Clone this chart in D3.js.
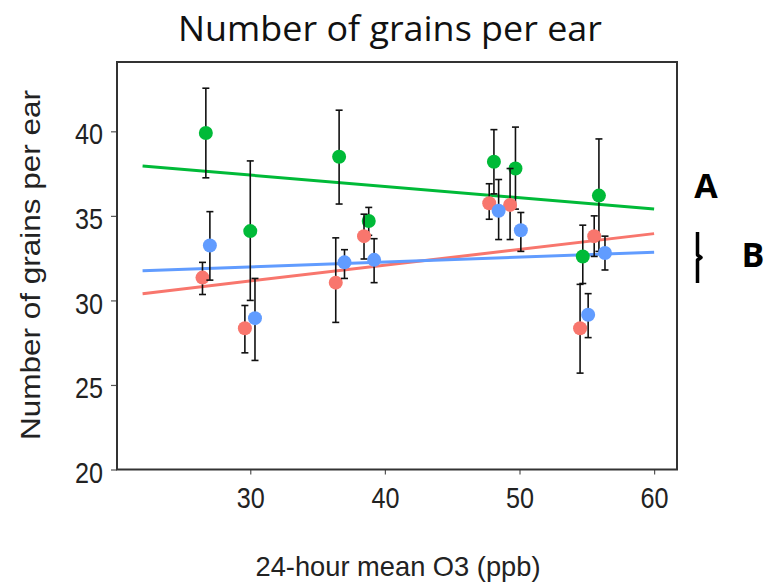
<!DOCTYPE html>
<html>
<head>
<meta charset="utf-8">
<script src="https://cdn.jsdelivr.net/npm/d3@7"></script>
<style>
  html, body { margin: 0; padding: 0; background: #fff; }
  svg { display: block; }
</style>
</head>
<body>
<svg id="chart" width="770" height="583"></svg>
<script>
// Ozone exposure (24-hour mean, ppb) for each treatment point
const greenX  = [26.7, 30.0, 36.6, 38.8, 48.1, 49.7, 54.7, 55.9];
const greenY  = [39.9, 34.1, 38.5, 34.7, 38.2, 37.8, 32.6, 36.2];
const greenLo = [37.25, 30.0, 35.7, 33.85, 36.3, 35.4, 31.0, 32.9];
const greenHi = [42.55, 38.25, 41.25, 35.5, 40.1, 40.25, 34.45, 39.55];

const redX  = [26.45, 29.6, 36.35, 38.45, 47.75, 49.3, 54.5, 55.55];
const redY  = [31.35, 28.35, 31.05, 33.8, 35.75, 35.65, 28.35, 33.8];
const redLo = [30.35, 26.9, 28.7, 32.45, 34.8, 33.6, 25.7, 32.6];
const redHi = [32.25, 29.7, 33.7, 35.1, 36.9, 37.8, 30.95, 35.0];

const blueX  = [27.0, 30.35, 37.0, 39.2, 48.45, 50.1, 55.1, 56.35];
const blueY  = [33.25, 28.95, 32.25, 32.4, 35.3, 34.15, 29.15, 32.8];
const blueLo = [31.2, 26.45, 31.3, 31.05, 33.6, 32.9, 27.8, 31.8];
const blueHi = [35.25, 31.3, 33.0, 33.65, 37.15, 35.2, 30.4, 33.8];

// Fitted trend lines: values at the two ends of the ozone range
const fitX     = [22, 60];
const greenFit = [37.95, 35.4];
const redFit   = [30.4, 33.95];
const blueFit  = [31.75, 32.85];

const xTicks = [30, 40, 50, 60];
const yTicks = [20, 25, 30, 35, 40];

const series = [
  { x: greenX, y: greenY, lo: greenLo, hi: greenHi, fit: greenFit, color: "#00BA38" },
  { x: redX,   y: redY,   lo: redLo,   hi: redHi,   fit: redFit,   color: "#F8766D" },
  { x: blueX,  y: blueY,  lo: blueLo,  hi: blueHi,  fit: blueFit,  color: "#619CFF" }
];

const svg = d3.select("#chart");
const plotL = 117, plotR = 677, plotT = 62, plotB = 469.5;

const x = d3.scaleLinear().domain([20.1, 61.7]).range([plotL, plotR]);
const y = d3.scaleLinear().domain([20, 44.1]).range([plotB, plotT]);

// Title
svg.append("text")
  .attr("x", 390).attr("y", 41)
  .attr("text-anchor", "middle")
  .attr("font-family", "'Open Sans', 'Noto Sans', sans-serif")
  .attr("font-size", 34)
  .attr("fill", "#111")
  .attr("textLength", 424)
  .attr("lengthAdjust", "spacingAndGlyphs")
  .text("Number of grains per ear");

// Axes
const axisFont = "'Liberation Sans', Arial, sans-serif";
const xAxis = svg.append("g")
  .attr("transform", `translate(0,${plotB})`)
  .call(d3.axisBottom(x).tickValues(xTicks).tickSize(5).tickPadding(12).tickFormat(d3.format("d")));
const yAxis = svg.append("g")
  .attr("transform", `translate(${plotL},0)`)
  .call(d3.axisLeft(y).tickValues(yTicks).tickSize(6).tickPadding(8).tickFormat(d3.format("d")));

[xAxis, yAxis].forEach(g => {
  g.select(".domain").remove();
  g.selectAll(".tick line").attr("stroke", "#555").attr("stroke-width", 1.2);
  g.selectAll(".tick text")
    .attr("font-family", axisFont)
    .attr("font-size", 30)
    .attr("fill", "#222")
    .attr("textLength", 28)
    .attr("lengthAdjust", "spacingAndGlyphs");
});
xAxis.selectAll(".tick text").attr("dy", "0.71em");
yAxis.selectAll(".tick text").attr("dy", "0.42em");

// Plot frame
svg.append("rect")
  .attr("x", plotL).attr("y", plotT)
  .attr("width", plotR - plotL).attr("height", plotB - plotT)
  .attr("fill", "none").attr("stroke", "#333").attr("stroke-width", 2);

// Axis titles
svg.append("text")
  .attr("x", 398).attr("y", 576)
  .attr("text-anchor", "middle")
  .attr("font-family", axisFont)
  .attr("font-size", 28)
  .attr("fill", "#222")
  .attr("textLength", 285)
  .attr("lengthAdjust", "spacingAndGlyphs")
  .text("24-hour mean O3 (ppb)");

svg.append("text")
  .attr("transform", "translate(40,265) rotate(-90)")
  .attr("text-anchor", "middle")
  .attr("font-family", axisFont)
  .attr("font-size", 28)
  .attr("fill", "#222")
  .attr("textLength", 350)
  .attr("lengthAdjust", "spacingAndGlyphs")
  .text("Number of grains per ear");

// Trend lines
const line = d3.line().x(d => x(d[0])).y(d => y(d[1]));
series.forEach(s => {
  svg.append("path")
    .datum(fitX.map((v, i) => [v, s.fit[i]]))
    .attr("d", line)
    .attr("fill", "none")
    .attr("stroke", s.color)
    .attr("stroke-width", 3);
});

// Error bars and points
const cap = 3.5;
series.forEach(s => {
  const g = svg.append("g");
  const idx = d3.range(s.x.length);
  const eb = g.selectAll("g.eb").data(idx).join("g").attr("stroke", "#111").attr("stroke-width", 1.6);
  eb.append("line")
    .attr("x1", i => x(s.x[i])).attr("x2", i => x(s.x[i]))
    .attr("y1", i => y(s.lo[i])).attr("y2", i => y(s.hi[i]));
  eb.append("line")
    .attr("x1", i => x(s.x[i]) - cap).attr("x2", i => x(s.x[i]) + cap)
    .attr("y1", i => y(s.lo[i])).attr("y2", i => y(s.lo[i]));
  eb.append("line")
    .attr("x1", i => x(s.x[i]) - cap).attr("x2", i => x(s.x[i]) + cap)
    .attr("y1", i => y(s.hi[i])).attr("y2", i => y(s.hi[i]));
  g.selectAll("circle").data(idx).join("circle")
    .attr("cx", i => x(s.x[i]))
    .attr("cy", i => y(s.y[i]))
    .attr("r", 7)
    .attr("fill", s.color);
});

// Significance letters beside the plot
svg.append("text")
  .attr("x", 706).attr("y", 198)
  .attr("text-anchor", "middle")
  .attr("font-family", "'Open Sans', 'Noto Sans', sans-serif")
  .attr("font-weight", "bold")
  .attr("font-size", 34)
  .attr("fill", "#000")
  .text("A");
svg.append("text")
  .attr("x", 753).attr("y", 267)
  .attr("text-anchor", "middle")
  .attr("font-family", "'Open Sans', 'Noto Sans', sans-serif")
  .attr("font-weight", "bold")
  .attr("font-size", 34)
  .attr("fill", "#000")
  .text("B");
svg.append("path")
  .attr("d", "M697.5,232 L697.5,255 L701,257.5 L697.5,260 L697.5,283")
  .attr("fill", "none")
  .attr("stroke", "#000")
  .attr("stroke-width", 3.5)
  .attr("stroke-linejoin", "round");
</script>
</body>
</html>
